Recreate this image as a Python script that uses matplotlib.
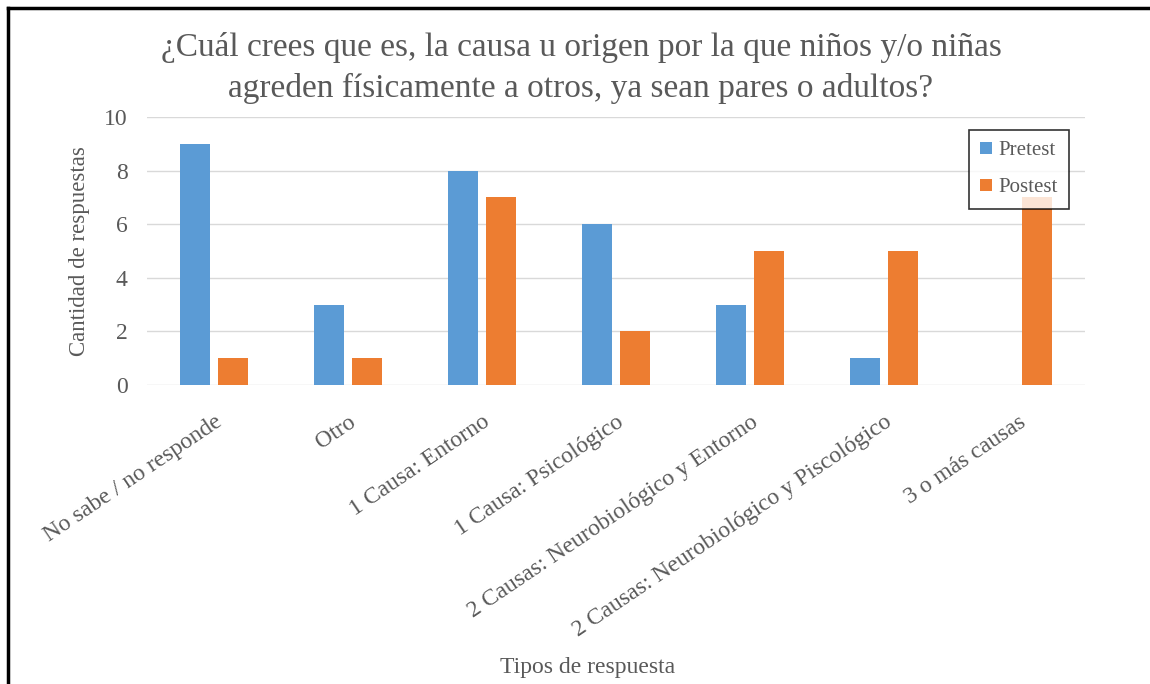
import matplotlib.pyplot as plt
from matplotlib.lines import Line2D
import numpy as np

categories = ['No sabe / no responde', 'Otro', '1 Causa: Entorno', '1 Causa: Psicológico',
              '2 Causas: Neurobiológico y Entorno', '2 Causas: Neurobiológico y Piscológico',
              '3 o más causas']
pretest = [9, 3, 8, 6, 3, 1, 0]
postest = [1, 1, 7, 2, 5, 5, 7]

BLUE = '#5B9BD5'
ORANGE = '#ED7D31'
TEXT = '#595959'
GRID = '#D9D9D9'

plt.rcParams['font.family'] = ['Liberation Serif', 'DejaVu Serif']

fig = plt.figure(figsize=(11.5, 6.84), dpi=100)
ax = fig.add_axes([147 / 1150, 1 - 385 / 684, (1085 - 147) / 1150, (385 - 117) / 684])

x = np.arange(len(categories))
w = 0.224
gap = 0.06
ax.bar(x - (w + gap) / 2, pretest, w, color=BLUE, label='Pretest', zorder=2)
ax.bar(x + (w + gap) / 2, postest, w, color=ORANGE, label='Postest', zorder=2)

ax.set_xlim(-0.5, len(categories) - 0.5)
ax.set_ylim(0, 10)
ax.set_yticks(range(0, 11, 2))
ax.yaxis.grid(True, color=GRID, linewidth=1, zorder=0)
ax.set_axisbelow(True)
for s in ['top', 'right', 'left', 'bottom']:
    ax.spines[s].set_visible(False)
ax.tick_params(axis='both', length=0, colors=TEXT, labelsize=17)
ax.tick_params(axis='y', pad=14)
ax.set_xticks(x)
ax.set_xticklabels(categories, rotation=34, ha='right', rotation_mode='anchor')
ax.tick_params(axis='x', pad=19)

ax.set_ylabel('Cantidad de respuestas', fontsize=16.5, color=TEXT, labelpad=10)

fig.text(581 / 1150, 1 - 68 / 684,
         '¿Cuál crees que es, la causa u origen por la que niños y/o niñas\n'
         'agreden físicamente a otros, ya sean pares o adultos?',
         ha='center', va='center', fontsize=24, color=TEXT, linespacing=1.4)
fig.text(588 / 1150, 1 - 667 / 684, 'Tipos de respuesta', ha='center', va='center',
         fontsize=17, color=TEXT)

leg = ax.legend(loc='upper left', bbox_to_anchor=((969 - 147) / (1085 - 147), 1 - (130 - 117) / (385 - 117)),
                fontsize=15, frameon=True, fancybox=False, handlelength=0.55, handleheight=0.55,
                handletextpad=0.3, labelspacing=0.85, borderpad=0.55, borderaxespad=0,
                labelcolor=TEXT)
leg.get_frame().set_edgecolor('black')
leg.get_frame().set_linewidth(1.2)
leg.set_zorder(5)

# outer frame (top and left edges only visible)
fig.add_artist(Line2D([8 / 1150, 8 / 1150], [0, 1 - 8 / 684], color='black', linewidth=2.5,
                      transform=fig.transFigure))
fig.add_artist(Line2D([8 / 1150, 1], [1 - 8 / 684, 1 - 8 / 684], color='black', linewidth=2.5,
                      transform=fig.transFigure))

fig.savefig('out.png', dpi=100, facecolor='white')
